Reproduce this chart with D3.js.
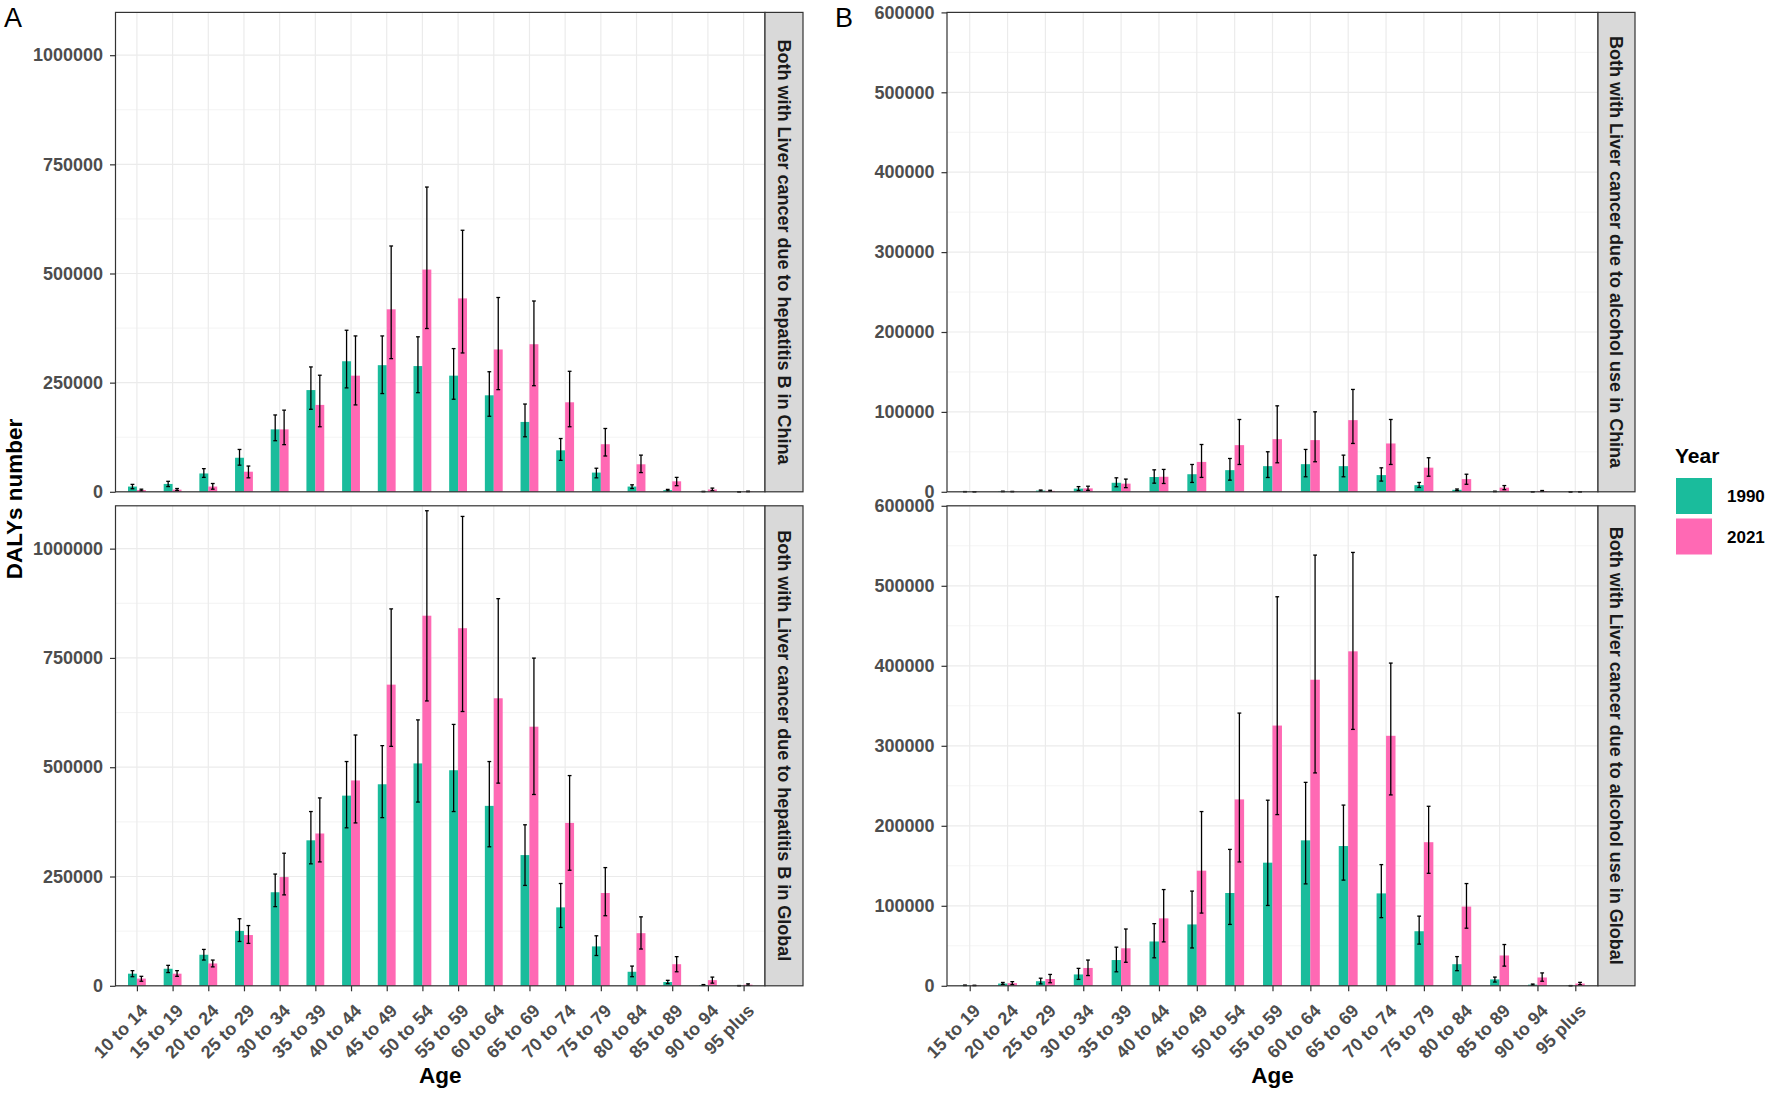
<!DOCTYPE html>
<html>
<head>
<meta charset="utf-8">
<script src="https://cdn.jsdelivr.net/npm/d3@7"></script>
<style>
  html, body { margin: 0; padding: 0; background: #fff; }
  svg { display: block; font-family: "Liberation Sans", Arial, sans-serif; }
</style>
</head>
<body>
<svg id="chart" width="1772" height="1094"></svg>
<script>
// ---------------- DATA ----------------
const agesA = ["10 to 14","15 to 19","20 to 24","25 to 29","30 to 34","35 to 39","40 to 44","45 to 49","50 to 54","55 to 59","60 to 64","65 to 69","70 to 74","75 to 79","80 to 84","85 to 89","90 to 94","95 plus"];
const agesB = ["15 to 19","20 to 24","25 to 29","30 to 34","35 to 39","40 to 44","45 to 49","50 to 54","55 to 59","60 to 64","65 to 69","70 to 74","75 to 79","80 to 84","85 to 89","90 to 94","95 plus"];
const years = ["1990", "2021"];

const ticksA = [0, 250000, 500000, 750000, 1000000];
const ticksB = [0, 100000, 200000, 300000, 400000, 500000, 600000];

// A (upper): Liver cancer due to hepatitis B, China
const hbvChina1990   = [12000, 18000, 42000, 78000, 143000, 233000, 299000, 290000, 288000, 266000, 221000, 160000, 95000, 44000, 12000, 3800, 600, 100];
const hbvChina1990Lo = [7000, 12000, 33000, 61000, 117000, 189000, 238000, 225000, 227000, 212000, 173000, 126000, 72000, 32000, 7500, 2000, 200, 0];
const hbvChina1990Hi = [17000, 24000, 53000, 97000, 176000, 286000, 370000, 357000, 355000, 328000, 275000, 201000, 122000, 54000, 16000, 5500, 1000, 200];
const hbvChina2021   = [4000, 5000, 12000, 46000, 143000, 199000, 266000, 418000, 509000, 443000, 326000, 338000, 205000, 109000, 63000, 24000, 5300, 800];
const hbvChina2021Lo = [2000, 3000, 6000, 32000, 108000, 149000, 199000, 305000, 374000, 318000, 234000, 243000, 149000, 82000, 44000, 14000, 2500, 300];
const hbvChina2021Hi = [6000, 7500, 19000, 59000, 187000, 267000, 357000, 563000, 698000, 599000, 445000, 437000, 276000, 145000, 84000, 33000, 8500, 1500];

// A (lower): Liver cancer due to hepatitis B, Global
const hbvGlobal1990   = [27700, 39000, 71000, 125600, 214000, 332800, 435000, 461000, 508700, 493100, 411600, 299000, 179400, 90100, 32100, 8700, 1700, 300];
const hbvGlobal1990Lo = [20800, 30300, 58900, 101400, 181100, 279000, 361400, 384700, 420300, 398600, 318000, 229600, 133400, 69300, 20800, 5000, 800, 100];
const hbvGlobal1990Hi = [34700, 46800, 83200, 153400, 255600, 398600, 513000, 549400, 608300, 597900, 513000, 368300, 234000, 114400, 45100, 12500, 2800, 600];
const hbvGlobal2021   = [16500, 27700, 51100, 116100, 248700, 348400, 469700, 688900, 846600, 818000, 657700, 592700, 372600, 212300, 120400, 49400, 13000, 2600];
const hbvGlobal2021Lo = [10400, 21700, 43300, 97000, 208000, 283400, 372600, 547700, 651600, 627400, 463600, 437600, 264300, 160300, 84100, 32100, 6100, 1000];
const hbvGlobal2021Hi = [21700, 34700, 58900, 137800, 303300, 429800, 573700, 862200, 1086700, 1073700, 885600, 749600, 480900, 270400, 157700, 66700, 19900, 4500];

// B (upper): Liver cancer due to alcohol use, China
const alcChina1990   = [200, 500, 1500, 4000, 11300, 18500, 22000, 27100, 32100, 34600, 32100, 20900, 8300, 2500, 500, 100, 0];
const alcChina1990Lo = [100, 200, 800, 1500, 6300, 10800, 11700, 14600, 17900, 18800, 18800, 13400, 5400, 1500, 200, 0, 0];
const alcChina1990Hi = [300, 800, 2200, 6500, 17500, 27500, 34200, 41700, 50100, 53000, 45900, 30000, 11700, 3500, 800, 200, 0];
const alcChina2021   = [100, 300, 1200, 4300, 10200, 18800, 37400, 58400, 65900, 64700, 89700, 60500, 30200, 15900, 5200, 1000, 100];
const alcChina2021Lo = [50, 100, 600, 1800, 5200, 10400, 18000, 34200, 36300, 37600, 60500, 34200, 19500, 9400, 2700, 500, 0];
const alcChina2021Hi = [200, 500, 1900, 7000, 15900, 28000, 59200, 90500, 107600, 100100, 128100, 90500, 42600, 22000, 7800, 1600, 200];

// B (lower): Liver cancer due to alcohol use, Global
const alcGlobal1990   = [600, 2800, 5700, 14200, 32200, 55400, 76700, 116000, 153900, 181800, 174700, 115500, 68200, 27000, 8000, 1400, 200];
const alcGlobal1990Lo = [300, 1800, 2400, 8000, 17500, 35000, 47300, 76700, 100400, 127400, 132100, 85200, 52100, 18900, 4700, 700, 100];
const alcGlobal1990Hi = [900, 4200, 9500, 21800, 48300, 77700, 118400, 170500, 232000, 254300, 225900, 151500, 87100, 36500, 10900, 2200, 300];
const alcGlobal2021   = [400, 3300, 8500, 22300, 46900, 84300, 143900, 233000, 325300, 382600, 418100, 312500, 179500, 99000, 37900, 10400, 2800];
const alcGlobal2021Lo = [200, 1400, 3800, 12800, 29400, 54900, 90900, 154800, 214000, 266100, 320500, 238600, 140600, 72000, 24600, 5700, 1400];
const alcGlobal2021Hi = [700, 5200, 14200, 32200, 71000, 120300, 217800, 340900, 486300, 538400, 541700, 403400, 224400, 127800, 51600, 16100, 4300];

const stripChinaA  = "Both with Liver cancer due to hepatitis B in China";
const stripGlobalA = "Both with Liver cancer due to hepatitis B in Global";
const stripChinaB  = "Both with Liver cancer due to alcohol use in China";
const stripGlobalB = "Both with Liver cancer due to alcohol use in Global";

// ---------------- STYLE / LAYOUT ----------------
const COL = { "1990": "#1ABC9C", "2021": "#FF69B4" };
const svg = d3.select("#chart");
svg.append("rect").attr("width", 1772).attr("height", 1094).attr("fill", "#fff");

const rowsY = [{ top: 12.4, bottom: 491.8 }, { top: 505.8, bottom: 985.8 }];
const groups = [
  { left: 115.5, right: 765, stripR: 803, ages: agesA, yMax: 1098000, ticks: ticksA, minor: 125000,
    label: "A", labelX: 4,
    facets: [
      { strip: stripChinaA, v: [hbvChina1990, hbvChina2021], lo: [hbvChina1990Lo, hbvChina2021Lo], hi: [hbvChina1990Hi, hbvChina2021Hi] },
      { strip: stripGlobalA, v: [hbvGlobal1990, hbvGlobal2021], lo: [hbvGlobal1990Lo, hbvGlobal2021Lo], hi: [hbvGlobal1990Hi, hbvGlobal2021Hi] }
    ] },
  { left: 947, right: 1598, stripR: 1635, ages: agesB, yMax: 600000, ticks: ticksB, minor: 50000,
    label: "B", labelX: 835,
    facets: [
      { strip: stripChinaB, v: [alcChina1990, alcChina2021], lo: [alcChina1990Lo, alcChina2021Lo], hi: [alcChina1990Hi, alcChina2021Hi] },
      { strip: stripGlobalB, v: [alcGlobal1990, alcGlobal2021], lo: [alcGlobal1990Lo, alcGlobal2021Lo], hi: [alcGlobal1990Hi, alcGlobal2021Hi] }
    ] }
];

groups.forEach(g => {
  const x = d3.scalePoint().domain(g.ages).range([g.left, g.right]).padding(0.6);
  const step = x.step();
  const barW = step * 0.25;

  svg.append("text").attr("x", g.labelX).attr("y", 27).attr("font-size", 27)
    .attr("fill", "#000").text(g.label);

  g.facets.forEach((f, fi) => {
    const r = rowsY[fi];
    const y = d3.scaleLinear().domain([0, g.yMax]).range([r.bottom, r.top]);
    const p = svg.append("g");

    // minor grid
    const minorVals = d3.range(g.minor, g.yMax, g.minor * 2);
    p.selectAll(".mg").data(minorVals).join("line")
      .attr("x1", g.left).attr("x2", g.right)
      .attr("y1", d => y(d)).attr("y2", d => y(d))
      .attr("stroke", "#EBEBEB").attr("stroke-width", 0.6);
    // major grid
    p.selectAll(".Mg").data(g.ticks).join("line")
      .attr("x1", g.left).attr("x2", g.right)
      .attr("y1", d => y(d)).attr("y2", d => y(d))
      .attr("stroke", "#EBEBEB").attr("stroke-width", 1.2);
    p.selectAll(".vg").data(g.ages).join("line")
      .attr("x1", d => x(d)).attr("x2", d => x(d))
      .attr("y1", r.top).attr("y2", r.bottom)
      .attr("stroke", "#EBEBEB").attr("stroke-width", 1.2);

    // bars
    years.forEach((yr, yi) => {
      const off = yi === 0 ? -barW : 0;
      p.selectAll(".bar" + yi).data(g.ages).join("rect")
        .attr("x", d => x(d) + off)
        .attr("width", barW)
        .attr("y", (d, i) => y(f.v[yi][i]))
        .attr("height", (d, i) => r.bottom - y(f.v[yi][i]))
        .attr("fill", COL[yr]);
    });
    // error bars
    years.forEach((yr, yi) => {
      const cx = d => x(d) + (yi === 0 ? -barW / 2 : barW / 2);
      const cap = 1.9;
      const eg = p.append("g").attr("stroke", "#000").attr("stroke-width", 1.3);
      eg.selectAll(".ev").data(g.ages).join("line")
        .attr("x1", cx).attr("x2", cx)
        .attr("y1", (d, i) => y(f.lo[yi][i])).attr("y2", (d, i) => y(f.hi[yi][i]));
      eg.selectAll(".et").data(g.ages).join("line")
        .attr("x1", d => cx(d) - cap).attr("x2", d => cx(d) + cap)
        .attr("y1", (d, i) => y(f.hi[yi][i])).attr("y2", (d, i) => y(f.hi[yi][i]));
      eg.selectAll(".eb").data(g.ages).join("line")
        .attr("x1", d => cx(d) - cap).attr("x2", d => cx(d) + cap)
        .attr("y1", (d, i) => y(f.lo[yi][i])).attr("y2", (d, i) => y(f.lo[yi][i]));
    });

    // panel border
    p.append("rect").attr("x", g.left).attr("y", r.top)
      .attr("width", g.right - g.left).attr("height", r.bottom - r.top)
      .attr("fill", "none").attr("stroke", "#333").attr("stroke-width", 1.2);

    // strip
    p.append("rect").attr("x", g.right).attr("y", r.top)
      .attr("width", g.stripR - g.right).attr("height", r.bottom - r.top)
      .attr("fill", "#D9D9D9").attr("stroke", "#333").attr("stroke-width", 1.2);
    const sx = (g.right + g.stripR) / 2, sy = (r.top + r.bottom) / 2;
    p.append("text").attr("transform", `translate(${sx},${sy}) rotate(90)`)
      .attr("text-anchor", "middle").attr("dy", "0.36em")
      .attr("font-size", 18).attr("font-weight", "bold").attr("fill", "#1A1A1A")
      .text(f.strip);

    // y axis
    const ya = svg.append("g").attr("transform", `translate(${g.left},0)`)
      .call(d3.axisLeft(y).tickValues(g.ticks).tickSize(5.5).tickPadding(7).tickFormat(d3.format("d")));
    ya.select(".domain").remove();
    ya.selectAll(".tick line").attr("stroke", "#333").attr("stroke-width", 1.2);
    ya.selectAll(".tick text").attr("font-size", 18).attr("font-weight", "bold")
      .attr("fill", "#4D4D4D").attr("font-family", "'Liberation Sans', Arial, sans-serif");

    // x axis on lower facet only
    if (fi === 1) {
      const xa = svg.append("g").attr("transform", `translate(0,${r.bottom})`)
        .call(d3.axisBottom(x).tickSize(5.5).tickPadding(0));
      xa.select(".domain").remove();
      xa.selectAll(".tick line").attr("stroke", "#333").attr("stroke-width", 1.2);
      xa.selectAll(".tick text")
        .attr("font-size", 18).attr("font-weight", "bold").attr("fill", "#4D4D4D")
        .attr("font-family", "'Liberation Sans', Arial, sans-serif")
        .attr("text-anchor", "end")
        .attr("x", 0).attr("y", 0).attr("dy", "0.72em")
        .attr("transform", "translate(2,17) rotate(-45)");
    }
  });

  // x axis title
  svg.append("text").attr("x", (g.left + g.right) / 2).attr("y", 1083)
    .attr("text-anchor", "middle").attr("font-size", 22.5).attr("font-weight", "bold")
    .attr("fill", "#000").text("Age");
});

// y axis title
svg.append("text").attr("transform", "translate(22,499) rotate(-90)")
  .attr("text-anchor", "middle").attr("font-size", 22.5).attr("font-weight", "bold")
  .attr("fill", "#000").text("DALYs number");

// legend
const lg = svg.append("g");
lg.append("text").attr("x", 1675).attr("y", 463).attr("font-size", 21).attr("font-weight", "bold")
  .attr("fill", "#000").text("Year");
years.forEach((yr, i) => {
  const ky = 478 + i * 40.5;
  lg.append("rect").attr("x", 1676).attr("y", ky).attr("width", 36).attr("height", 36)
    .attr("fill", COL[yr]);
  lg.append("text").attr("x", 1727).attr("y", ky + 18).attr("dy", "0.36em")
    .attr("font-size", 17).attr("font-weight", "bold").attr("fill", "#000").text(yr);
});
</script>
</body>
</html>
